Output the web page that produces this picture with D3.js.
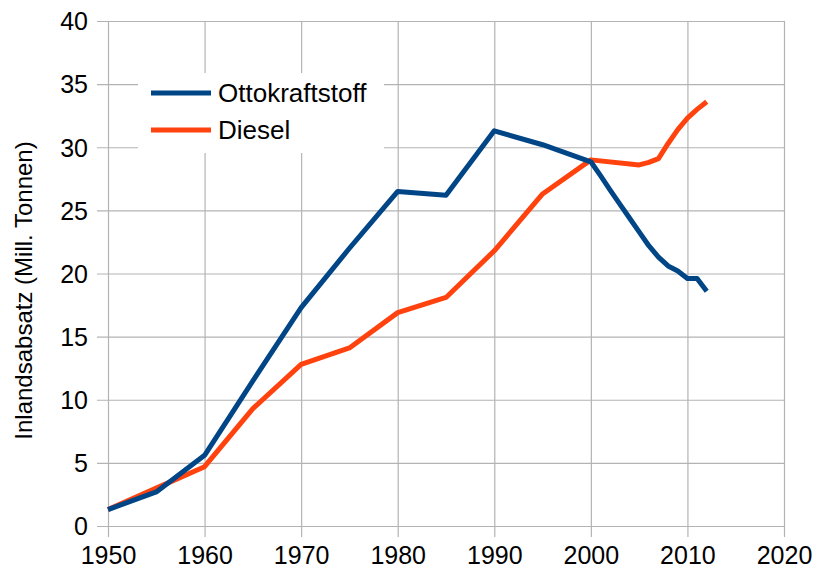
<!DOCTYPE html>
<html><head><meta charset="utf-8">
<script src="https://cdn.jsdelivr.net/npm/d3@7"></script>
<style>
html,body{margin:0;padding:0;background:#fff;}
text{font-family:"Liberation Sans",Arial,sans-serif;fill:#000;}
</style></head>
<body>
<svg id="chart" width="816" height="576"></svg>
<script>
const ottoYears = [1950,1955,1960,1965,1970,1975,1980,1985,1990,1995,2000,2001,2002,2003,2004,2005,2006,2007,2008,2009,2010,2011,2012];
const ottoValues = [1.3,2.7,5.6,11.5,17.3,22.0,26.5,26.2,31.3,30.2,28.85,27.75,26.6,25.5,24.4,23.3,22.2,21.3,20.6,20.2,19.6,19.6,18.6];
const dieselYears = [1950,1955,1960,1965,1970,1975,1980,1985,1990,1995,2000,2005,2006,2007,2008,2009,2010,2011,2012];
const dieselValues = [1.3,3.0,4.7,9.3,12.8,14.1,16.9,18.1,21.8,26.3,29.0,28.6,28.8,29.1,30.3,31.4,32.3,33.0,33.6];
const xTicks = [1950,1960,1970,1980,1990,2000,2010,2020];
const yTicks = [0,5,10,15,20,25,30,35,40];
const seriesNames = ["Ottokraftstoff","Diesel"];
const seriesColors = ["#004586","#ff420e"];
const yTitle = "Inlandsabsatz (Mill. Tonnen)";

const svg = d3.select("#chart");
const L=108, R=784, T=21, B=526;
const x = d3.scaleLinear().domain([1950,2020]).range([L,R]);
const y = d3.scaleLinear().domain([0,40]).range([B,T]);
const grid="#b3b3b3";

// grid lines
svg.append("g").selectAll("line.h").data(yTicks).join("line")
  .attr("x1",L-11).attr("x2",R).attr("y1",d=>y(d)+0.5).attr("y2",d=>y(d)+0.5)
  .attr("stroke",grid).attr("stroke-width",1.2);
svg.append("g").selectAll("line.v").data(xTicks).join("line")
  .attr("y1",T).attr("y2",B+11).attr("x1",d=>x(d)+0.5).attr("x2",d=>x(d)+0.5)
  .attr("stroke",grid).attr("stroke-width",1.2);

// axis labels via d3 axes
const yAxis = svg.append("g").attr("transform",`translate(${L-20},0)`)
  .call(d3.axisLeft(y).tickValues(yTicks).tickSize(0).tickPadding(0));
yAxis.select(".domain").remove();
yAxis.selectAll("text").attr("font-size",25).attr("font-family","Liberation Sans, Arial, sans-serif").attr("fill","#000").attr("dy","0.35em");

const xAxis = svg.append("g").attr("transform",`translate(0,${B+19})`)
  .call(d3.axisBottom(x).tickValues(xTicks).tickFormat(d3.format("d")).tickSize(0).tickPadding(0));
xAxis.select(".domain").remove();
xAxis.selectAll("text").attr("font-size",25).attr("font-family","Liberation Sans, Arial, sans-serif").attr("fill","#000").attr("dy","0.75em");

// y title
svg.append("text").attr("transform",`translate(32,${(T+B)/2+17}) rotate(-90)`)
  .attr("text-anchor","middle").attr("font-size",24).text(yTitle);

// lines
const line = d3.line().x(d=>x(d[0])).y(d=>y(d[1]));
const ottoData = ottoYears.map((yr,i)=>[yr,ottoValues[i]]);
const dieselData = dieselYears.map((yr,i)=>[yr,dieselValues[i]]);
svg.append("path").datum(dieselData).attr("d",line).attr("fill","none")
  .attr("stroke",seriesColors[1]).attr("stroke-width",5).attr("stroke-linejoin","round");
svg.append("path").datum(ottoData).attr("d",line).attr("fill","none")
  .attr("stroke",seriesColors[0]).attr("stroke-width",5).attr("stroke-linejoin","round");

// legend
const lg = svg.append("g");
lg.append("rect").attr("x",138).attr("y",73).attr("width",246).attr("height",80).attr("fill","#fff");
seriesNames.forEach((n,i)=>{
  const yy = 93 + i*37;
  lg.append("line").attr("x1",151).attr("x2",211).attr("y1",yy).attr("y2",yy)
    .attr("stroke",seriesColors[i]).attr("stroke-width",5);
  lg.append("text").attr("x",218).attr("y",yy).attr("dy","0.36em").attr("font-size",26).text(n);
});
</script>
</body></html>
